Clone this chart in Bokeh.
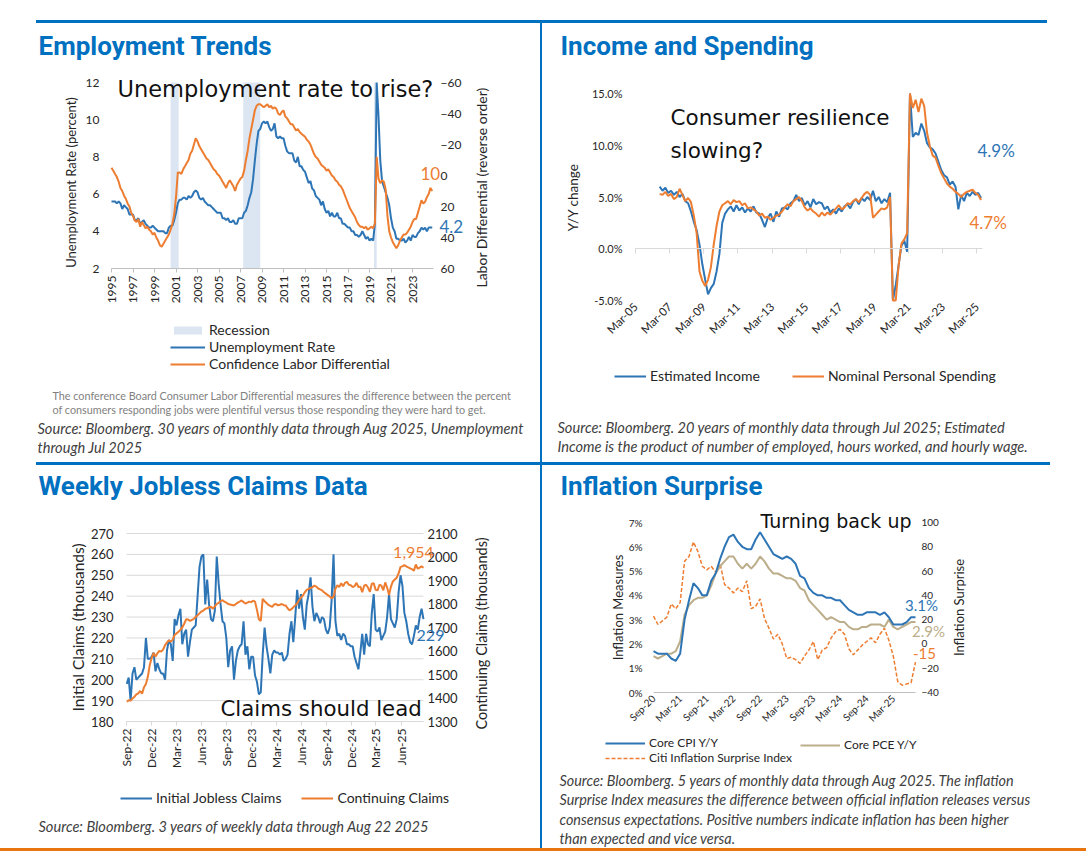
import math
import datetime as dt
from bokeh.plotting import figure
from bokeh.models import Range1d, LinearAxis, Label, Legend, LegendItem, FixedTicker, Div
from bokeh.layouts import column, row
from bokeh.embed import file_html
from bokeh.resources import INLINE

BODY = "Lato"
HEAD = "Roboto"
HAND = "DejaVu Sans"
BLUE = "#2E75B6"
ORANGE = "#ED7D31"
TAN = "#BCAE8B"
DARK_BLUE = "#0070C0"
RULE_ORANGE = "#E8750F"
REC_FILL = "#DCE6F2"
AXIS_GRAY = "#BFBFBF"
GRID_GRAY = "#D9D9D9"
TEXT = "#262626"
CAPTION = "#404040"

# ---------------- Chart 1: Employment Trends (every 2 months from Sep 1995) ----------------
EMP_START = (1995, 9)
EMP_STEP = 2
UNEMPLOYMENT_RATE = [
    5.6, 5.6,
    5.6, 5.5, 5.6, 5.5, 5.2, 5.4,
    5.3, 5.2, 4.9, 4.9, 4.9, 4.6,
    4.6, 4.7, 4.4, 4.5, 4.6, 4.4,
    4.3, 4.2, 4.2, 4.3, 4.2, 4.1,
    4.0, 4.0, 4.0, 4.0, 3.9, 3.9,
    4.2, 4.3, 4.3, 4.6, 5.0, 5.5,
    5.7, 5.7, 5.8, 5.8, 5.7, 5.9,
    5.8, 5.9, 6.1, 6.2, 6.1, 5.8,
    5.7, 5.8, 5.6, 5.5, 5.4, 5.4,
    5.3, 5.2, 5.1, 5.0, 5.0, 5.0,
    4.7, 4.7, 4.6, 4.7, 4.5, 4.5,
    4.6, 4.4, 4.4, 4.7, 4.7, 4.7,
    5.0, 5.1, 5.4, 5.8, 6.1, 6.8,
    7.8, 8.7, 9.4, 9.5, 9.8, 9.9,
    9.8, 9.9, 9.6, 9.4, 9.5, 9.8,
    9.1, 9.0, 9.1, 9.0, 9.0, 8.6,
    8.3, 8.2, 8.2, 8.2, 7.8, 7.7,
    8.0, 7.5, 7.5, 7.3, 7.2, 6.9,
    6.6, 6.7, 6.3, 6.2, 5.9, 5.8,
    5.7, 5.4, 5.6, 5.2, 5.0, 5.1,
    4.8, 5.0, 4.8, 4.8, 5.0, 4.7,
    4.7, 4.4, 4.4, 4.3, 4.2, 4.2,
    4.0, 4.0, 3.8, 3.8, 3.7, 3.8,
    4.0, 3.8, 3.6, 3.7, 3.5, 3.6,
    3.5, 4.4, 12.0, 10.2, 7.8, 6.7,
    6.4, 6.1, 5.8, 5.4, 4.7, 4.2,
    4.0, 3.6, 3.6, 3.5, 3.5, 3.6,
    3.4, 3.5, 3.7, 3.5, 3.8, 3.7,
    3.7, 3.9, 4.0, 4.2, 4.1, 4.2,
    4.0, 4.2, 4.2, 4.2,
]
LABOR_DIFFERENTIAL = [
    -5, -3,
    -1, 1, 4, 8, 10, 13,
    15, 18, 20, 24, 26, 29,
    30, 28, 33, 30, 32, 34,
    33, 35, 36, 38, 37, 40,
    42, 45, 46, 44, 42, 40,
    38, 35, 31, 25, 14, -2,
    -2, -1, -4, -6, -8, -10,
    -14, -16, -20, -24, -22, -19,
    -17, -15, -13, -11, -10, -8,
    -6, -4, -3, -1, 0, 2,
    4, 6, 8, 5, 3, 5,
    7, 10, 6, 4, 2, 1,
    -3, -10, -16, -24, -30, -36,
    -42, -45, -46, -46, -45, -44,
    -45, -46, -44, -45, -43, -44,
    -43, -40, -39, -41, -42, -38,
    -37, -35, -33, -33, -31, -29,
    -30, -28, -27, -26, -25, -23,
    -22, -20, -17, -14, -12, -11,
    -9, -7, -6, -5, -3, -4,
    -2, 0, 1, 3, 4, 6,
    7, 9, 12, 15, 18, 21,
    23, 25, 27, 30, 32, 33,
    33, 34, 33, 35, 34, 33,
    34, 31, -12, 2, 5, 3,
    4, 9, 26, 36, 40, 43,
    45, 47, 45, 42, 40, 38,
    38, 37, 35, 33, 30, 28,
    28, 24, 20, 16, 18, 17,
    14, 12, 8, 10,
]
RECESSION_START = [(2001, 3), (2007, 12), (2020, 2)]
RECESSION_END = [(2001, 11), (2009, 6), (2020, 4)]
EMP_TICK_LABELS = ["1995", "1997", "1999", "2001", "2003", "2005", "2007", "2009",
                   "2011", "2013", "2015", "2017", "2019", "2021", "2023"]
UNEMP_AXIS = (2, 12, 2)
LABOR_AXIS = (60, -60, 20)   # bottom, top (reverse order)

# ---------------- Chart 2: Income and Spending (every 2 months from Aug 2006) ----------------
INC_START = (2006, 8)
INC_STEP = 2
ESTIMATED_INCOME = [
    6.0, 5.6, 5.9,
    5.4, 5.6, 5.2, 5.5, 5.0, 5.3,
    4.6, 4.4, 3.6, 2.6, 1.8, 0.4,
    -1.5, -3.0, -4.4, -3.8, -3.4, -2.2,
    -0.5, 2.5, 3.4, 3.8, 4.1, 3.6,
    4.2, 3.7, 4.0, 3.5, 3.9, 3.6,
    4.1, 3.5, 3.4, 2.8, 2.1, 3.0,
    3.4, 2.6, 3.6, 3.1, 3.9, 4.0,
    3.8, 4.4, 4.6, 5.2, 4.6, 4.9,
    4.2, 4.6, 4.0, 4.8, 4.3, 4.5,
    4.4, 3.8, 4.1, 3.5, 3.8, 3.4,
    3.9, 3.6, 4.1, 4.3, 3.9, 4.5,
    4.8, 4.3, 4.9, 4.6, 5.0, 4.7,
    5.6, 4.6, 5.0, 4.4, 4.8, 4.5,
    5.4, -5.0, -3.5, -1.6, 0.3, 0.8,
    -0.3, 15.0, 10.8, 11.2, 11.0, 12.1,
    11.4, 10.2, 9.8, 9.6, 9.2, 8.4,
    7.6, 7.1, 6.9, 6.2, 6.5, 6.0,
    3.8, 5.2, 4.6, 5.4, 5.1, 5.5,
    5.2, 5.4, 4.9,
]
NOMINAL_SPENDING = [
    5.3, 5.2, 5.5,
    5.1, 5.3, 4.8, 5.0, 5.8, 5.2,
    4.6, 4.9, 4.5, 3.2, 1.5, -2.2,
    -3.1, -3.6, -3.0, -1.8, 0.4, 2.2,
    3.6, 4.2, 4.4, 4.6, 4.3, 4.7,
    4.5, 4.6, 4.2, 4.4, 3.9, 4.0,
    3.8, 3.6, 3.2, 3.4, 3.0, 3.1,
    2.8, 3.0, 3.2, 3.3, 3.6, 4.0,
    4.3, 4.1, 4.6, 4.8, 5.0, 4.6,
    4.0, 3.7, 3.9, 3.6, 3.4, 3.1,
    3.5, 3.2, 3.5, 3.3, 3.6, 3.9,
    4.2, 3.8, 4.0, 4.4, 4.3, 4.6,
    4.8, 4.5, 4.9, 5.3, 5.5, 5.2,
    3.0, 3.3, 3.6, 3.9, 3.8, 4.0,
    5.0, -5.0, -5.0, -1.6, 0.5, 0.9,
    1.5, 15.0, 13.6, 14.4, 13.2, 14.5,
    13.8, 11.2, 9.9, 9.0, 8.8, 8.0,
    7.3, 6.8, 6.3, 6.0, 5.8, 5.5,
    5.3, 5.0, 5.3, 5.5, 5.6, 5.7,
    5.4, 5.2, 4.7,
]
INC_TICK_LABELS = ["Mar-05", "Mar-07", "Mar-09", "Mar-11", "Mar-13", "Mar-15",
                   "Mar-17", "Mar-19", "Mar-21", "Mar-23", "Mar-25"]
INC_AXIS = (-5, 15, 5)
INC_LABELS = {-5: "-5.0%", 0: "0.0%", 5: "5.0%", 10: "10.0%", 15: "15.0%"}

# ---------------- Chart 3: Weekly Jobless Claims (weekly from 2 Sep 2022) ----------------
CLAIMS_START = (2022, 9, 2)
CLAIMS_END = (2025, 8, 22)
INITIAL_CLAIMS = [
    198, 201, 190, 203, 206, 200, 201, 202, 203, 206,
    220, 210, 210, 211, 213, 204, 208, 205, 203, 203,
    200, 214, 219, 217, 209, 229, 226, 231, 234, 217,
    222, 224, 211, 218, 224, 225, 226, 240, 254, 259,
    260, 236, 248, 236, 229, 228, 233, 259, 246, 236,
    228, 227, 220, 206, 214, 216, 200, 209, 214, 216,
    217, 228, 212, 216, 205, 211, 211, 202, 199, 193,
    194, 212, 225, 216, 210, 203, 212, 214, 213, 213,
    212, 213, 209, 210, 212, 222, 228, 218, 230, 243,
    234, 241, 230, 224, 236, 241, 249, 235, 228, 232,
    230, 227, 230, 229, 224, 222, 225, 238, 260, 228,
    221, 222, 219, 222, 221, 217, 217, 216, 216, 211,
    208, 205, 213, 222, 212, 222, 217, 216, 232, 241,
    224, 223, 225, 219, 221, 223, 230, 241, 229, 227,
    225, 229, 242, 250, 245, 232, 228, 222, 218, 217,
    221, 226, 224, 230, 234, 229,
]
CONTINUING_CLAIMS = [
    1385, 1390, 1389, 1398, 1405, 1415, 1420, 1430, 1418, 1446,
    1460, 1490, 1540, 1570, 1592, 1576, 1590, 1600, 1598, 1606,
    1625, 1636, 1645, 1640, 1648, 1668, 1675, 1682, 1690, 1700,
    1716, 1735, 1734, 1728, 1732, 1737, 1745, 1752, 1760, 1768,
    1772, 1780, 1782, 1786, 1788, 1780, 1790, 1800, 1805, 1812,
    1816, 1810, 1806, 1800, 1798, 1796, 1794, 1800, 1806, 1810,
    1815, 1808, 1802, 1806, 1810, 1808, 1814, 1810, 1775, 1735,
    1728, 1822, 1812, 1804, 1796, 1792, 1788, 1798, 1800, 1794,
    1797, 1800, 1795, 1794, 1782, 1773, 1778, 1786, 1794, 1802,
    1816, 1828, 1836, 1850, 1860, 1864, 1868, 1872, 1878, 1874,
    1866, 1862, 1858, 1850, 1844, 1838, 1832, 1825, 1830, 1865,
    1880, 1872, 1888, 1876, 1890, 1894, 1882, 1880, 1872, 1876,
    1890, 1872, 1874, 1850, 1878, 1882, 1870, 1852, 1886, 1888,
    1860, 1858, 1882, 1878, 1858, 1892, 1870, 1838, 1874, 1896,
    1904, 1912, 1930, 1958, 1960, 1966, 1960, 1956, 1952, 1948,
    1942, 1968, 1950, 1955, 1960, 1954,
]
CLAIMS_TICKS = [(2022, 9), (2022, 12), (2023, 3), (2023, 6), (2023, 9), (2023, 12),
                (2024, 3), (2024, 6), (2024, 9), (2024, 12), (2025, 3), (2025, 6)]
CLAIMS_TICK_LABELS = ["Sep-22", "Dec-22", "Mar-23", "Jun-23", "Sep-23", "Dec-23",
                      "Mar-24", "Jun-24", "Sep-24", "Dec-24", "Mar-25", "Jun-25"]
INIT_AXIS = (180, 270, 10)
CONT_AXIS = (1300, 2100, 100)

# ---------------- Chart 4: Inflation Surprise (monthly from Sep 2020) ----------------
INF_START = (2020, 9)
INF_END = (2025, 8)
CORE_CPI = [
    1.7, 1.6, 1.6, 1.6,
    1.4, 1.3, 1.6, 3.0, 3.8, 4.5, 4.3, 4.0, 4.0, 4.6, 4.9, 5.5,
    6.0, 6.4, 6.5, 6.2, 6.0, 5.9, 5.9, 6.3, 6.6, 6.3, 6.0, 5.7,
    5.6, 5.5, 5.6, 5.5, 5.3, 4.8, 4.7, 4.3, 4.1, 4.0, 4.0, 3.9,
    3.9, 3.8, 3.8, 3.6, 3.4, 3.3, 3.2, 3.2, 3.3, 3.3, 3.3, 3.2,
    3.3, 3.1, 2.8, 2.8, 2.8, 2.9, 3.1, 3.1,
]
CORE_PCE = [
    1.5, 1.4, 1.5, 1.6,
    1.6, 1.7, 2.1, 3.2, 3.6, 3.8, 3.9, 3.9, 4.0, 4.4, 4.9, 5.2,
    5.4, 5.6, 5.6, 5.3, 5.1, 5.3, 5.1, 5.3, 5.6, 5.4, 5.1, 4.9,
    4.9, 4.8, 4.7, 4.7, 4.6, 4.3, 4.2, 3.8, 3.6, 3.4, 3.2, 3.0,
    3.1, 3.0, 2.9, 2.9, 2.7, 2.6, 2.6, 2.7, 2.7, 2.8, 2.8, 2.8,
    2.7, 3.0, 2.7, 2.6, 2.7, 2.8, 2.9, 2.9,
]
CITI_SURPRISE = [
    23, 16, 19, 22,
    33, 29, 34, 68, 72, 84, 76, 64, 61, 64, 59, 66,
    49, 46, 42, 46, 43, 52, 29, 31, 37, 21, 13, 4,
    8, 0, -12, -11, -13, -16, -10, -5, 2, -13, -5, -3,
    5, 10, 12, 8, -4, -9, -5, -1, 2, 5, 1, 8,
    13, 3, -10, -31, -34, -33, -32, -15,
]
INF_TICK_LABELS = ["Sep-20", "Mar-21", "Sep-21", "Mar-22", "Sep-22", "Mar-23",
                   "Sep-23", "Mar-24", "Sep-24", "Mar-25"]
INF_AXIS = (0, 7, 1)
SURPRISE_AXIS = (-40, 100, 20)


def mi(y, m):
    """month index"""
    return y * 12 + (m - 1)


def frange(a, b, s):
    out = []
    v = a
    while (s > 0 and v <= b) or (s < 0 and v >= b):
        out.append(v)
        v += s
    return out


def span_range(v, w, pv, pw, total):
    """Range1d such that value v sits at pixel pv and w at pixel pw (0..total)."""
    k = (w - v) / (pw - pv)
    return Range1d(v - pv * k, w + (total - pw) * k)


class Panel:
    """A figure whose frame is its whole canvas; the chart box is given in page px."""

    def __init__(self, ox, oy, W, H, box, xv, yv):
        self.ox, self.oy, self.W, self.H = ox, oy, W, H
        L, T, R, B = [c - o for c, o in zip(box, (ox, oy, ox, oy))]
        self.L, self.T, self.R, self.B = L, T, R, B
        self.xv, self.yv = xv, yv
        p = figure(width=W, height=H, output_backend="svg", toolbar_location=None, title=None,
                   x_range=span_range(xv[0], xv[1], L, R, W),
                   y_range=span_range(yv[0], yv[1], H - B, H - T, H),
                   min_border=0)
        p.outline_line_color = None
        p.xgrid.visible = False
        p.ygrid.visible = False
        p.background_fill_color = "white"
        p.border_fill_color = "white"
        p.xaxis.fixed_location = yv[0]
        p.yaxis.fixed_location = xv[0]
        p.xaxis.bounds = (min(xv), max(xv))
        self.p = p

    def extra_y(self, name, bottom, top):
        self.p.extra_y_ranges = {name: span_range(bottom, top, self.H - self.B, self.H - self.T, self.H)}

    def put(self, px, py, text, size, color=TEXT, font=BODY, style="normal", align="left", angle=0.0):
        self.p.add_layout(Label(x=px - self.ox, y=self.oy + self.H - py, x_units="screen",
                                y_units="screen", text=text, text_font=font,
                                text_font_size=f"{size}px", text_color=color,
                                text_font_style=style, text_align=align,
                                text_baseline="middle", angle=angle))

    def legend(self, items, px, py_bottom, orient, size, gw, spacing, lh):
        lg = Legend(items=items, location=(px - self.ox, self.oy + self.H - py_bottom),
                    orientation=orient, border_line_color=None, background_fill_alpha=0,
                    label_text_font=BODY, label_text_font_size=f"{size}px",
                    label_text_color=TEXT, glyph_width=gw, glyph_height=10, label_standoff=4,
                    spacing=spacing, padding=0, margin=0, label_height=lh)
        self.p.add_layout(lg)

    def title(self, px, py, text):
        self.put(px, py, text, 26, color=DARK_BLUE, font=HEAD, style="bold")


def style_axis(ax, size, line=None, ticks_out=0, standoff=5, color=TEXT):
    ax.axis_line_color = line
    ax.major_tick_line_color = line if ticks_out else None
    ax.major_tick_out = ticks_out
    ax.major_tick_in = 0
    ax.minor_tick_line_color = None
    ax.major_label_text_font = BODY
    ax.major_label_text_font_size = f"{size}px"
    ax.major_label_text_color = color
    ax.major_label_standoff = standoff


def dlabel(p, x, y, text, color, size, dx, dy, yname="default"):
    p.add_layout(Label(x=x, y=y, x_offset=dx, y_offset=dy, text=text, text_font=BODY,
                       text_font_size=f"{size}px", text_color=color, text_align="center",
                       text_baseline="middle", y_range_name=yname))


def bar(w, h, color=None):
    d = Div(text="", width=w, height=h, margin=0)
    if color:
        d.styles = {"background-color": color}
    return d


SRC = 14.6

# ====================== Panel 1 ======================
x1 = [mi(*EMP_START) + k * EMP_STEP for k in range(len(UNEMPLOYMENT_RATE))]
xl1 = [mi(*EMP_START) + k * EMP_STEP for k in range(len(LABOR_DIFFERENTIAL))]
A1 = Panel(8, 23, 532, 439, (111, 82, 433, 268),
           (mi(*EMP_START), mi(*EMP_START) + 359.4), (UNEMP_AXIS[0], UNEMP_AXIS[1]))
p1 = A1.p
A1.extra_y("r", LABOR_AXIS[0], LABOR_AXIS[1])
rec = p1.quad(left=[mi(*s) for s in RECESSION_START], right=[mi(*e) + 1 for e in RECESSION_END],
              bottom=UNEMP_AXIS[0], top=UNEMP_AXIS[1], fill_color=REC_FILL, line_color=None)
ru = p1.line(x1, UNEMPLOYMENT_RATE, line_color=BLUE, line_width=2)
rl = p1.line(xl1, LABOR_DIFFERENTIAL, line_color=ORANGE, line_width=2, y_range_name="r")
emp_ticks = [mi(*EMP_START) + 24 * k for k in range(len(EMP_TICK_LABELS))]
ax = p1.xaxis[0]
ax.ticker = FixedTicker(ticks=emp_ticks)
ax.major_label_overrides = dict(zip(emp_ticks, EMP_TICK_LABELS))
style_axis(ax, 12, line=AXIS_GRAY, ticks_out=4, standoff=3)
ax.major_label_orientation = math.pi / 2
ay = p1.yaxis[0]
ay.ticker = FixedTicker(ticks=frange(*UNEMP_AXIS))
style_axis(ay, 12, standoff=12)
ar = LinearAxis(y_range_name="r", fixed_location=A1.xv[1],
                ticker=FixedTicker(ticks=frange(LABOR_AXIS[1], LABOR_AXIS[0], LABOR_AXIS[2])))
style_axis(ar, 12, standoff=7)
p1.add_layout(ar, "right")
A1.legend([LegendItem(label="Recession", renderers=[rec]),
           LegendItem(label="Unemployment Rate", renderers=[ru]),
           LegendItem(label="Confidence Labor Differential", renderers=[rl])],
          170, 372, "vertical", 14, 35, 0, 16)
A1.title(38, 45, "Employment Trends")
A1.put(70, 182, "Unemployment Rate (percent)", 13, angle=math.pi / 2, align="center")
A1.put(481, 187, "Labor Differential (reverse order)", 14, angle=math.pi / 2, align="center")
A1.put(117, 88, "Unemployment rate to rise?", 22.5, color="#111111", font=HAND)
dlabel(p1, xl1[-1], LABOR_DIFFERENTIAL[-1], "10", ORANGE, 17, -2, 18, yname="r")
dlabel(p1, x1[-1], UNEMPLOYMENT_RATE[-1], "4.2", BLUE, 17, 19, 1)
A1.put(52, 395, "The conference Board Consumer Labor Differential measures the difference between the percent", 10.8, color="#7F7F7F")
A1.put(52, 409, "of consumers responding jobs were plentiful versus those responding they were hard to get.", 10.8, color="#7F7F7F")
A1.put(37, 428, "Source: Bloomberg. 30 years of monthly data through Aug 2025, Unemployment", SRC, color=CAPTION, style="italic")
A1.put(37, 447, "through Jul 2025", SRC, color=CAPTION, style="italic")

# ====================== Panel 2 ======================
x2 = [mi(*INC_START) + k * INC_STEP for k in range(len(ESTIMATED_INCOME))]
xs2 = [mi(*INC_START) + k * INC_STEP for k in range(len(NOMINAL_SPENDING))]
A2 = Panel(542, 23, 536, 439, (635, 93, 982, 300),
           (mi(2005, 3), mi(2025, 7)), (INC_AXIS[0], INC_AXIS[1]))
p2 = A2.p
ri = p2.line(x2, ESTIMATED_INCOME, line_color=BLUE, line_width=2)
rs = p2.line(xs2, NOMINAL_SPENDING, line_color=ORANGE, line_width=2)
inc_ticks = [mi(2005, 3) + 24 * k for k in range(len(INC_TICK_LABELS))]
ax = p2.xaxis[0]
ax.ticker = FixedTicker(ticks=inc_ticks)
ax.major_label_overrides = dict(zip(inc_ticks, INC_TICK_LABELS))
style_axis(ax, 11.5, standoff=4)
ax.major_label_orientation = math.pi / 4
zero_ax = LinearAxis(fixed_location=0, ticker=FixedTicker(ticks=inc_ticks),
                     bounds=(A2.xv[0], A2.xv[1]))
style_axis(zero_ax, 1, line=GRID_GRAY, ticks_out=5)
zero_ax.major_label_text_alpha = 0
p2.add_layout(zero_ax, "below")
ay = p2.yaxis[0]
ay.ticker = FixedTicker(ticks=frange(*INC_AXIS))
ay.major_label_overrides = INC_LABELS
style_axis(ay, 11, standoff=13)
A2.legend([LegendItem(label="Estimated Income", renderers=[ri]),
           LegendItem(label="Nominal Personal Spending", renderers=[rs])],
          614, 384, "horizontal", 14, 32, 32, 16)
A2.title(560, 45, "Income and Spending")
A2.put(572, 197, "Y/Y change", 13.5, angle=math.pi / 2, align="center")
A2.put(670, 117, "Consumer resilience", 21.5, color="#111111", font=HAND)
A2.put(670, 150, "slowing?", 21.5, color="#111111", font=HAND)
dlabel(p2, x2[-1], ESTIMATED_INCOME[-1], "4.9%", BLUE, 17, 15, 48)
dlabel(p2, xs2[-1], NOMINAL_SPENDING[-1], "4.7%", ORANGE, 17, 7, -22)
A2.put(557, 427, "Source: Bloomberg. 20 years of monthly data through Jul 2025; Estimated", SRC, color=CAPTION, style="italic")
A2.put(557, 446, "Income is the product of number of employed, hours worked, and hourly wage.", SRC, color=CAPTION, style="italic")

# ====================== Panel 3 ======================
c0 = dt.date(*CLAIMS_START).toordinal()
x3 = [c0 + 7 * k for k in range(len(INITIAL_CLAIMS))]
xc3 = [c0 + 7 * k for k in range(len(CONTINUING_CLAIMS))]
A3 = Panel(8, 465, 532, 383, (126, 533, 423, 721),
           (dt.date(2022, 9, 1).toordinal(), dt.date(*CLAIMS_END).toordinal()),
           (INIT_AXIS[0], INIT_AXIS[1]))
p3 = A3.p
A3.extra_y("r", CONT_AXIS[0], CONT_AXIS[1])
grid_y = frange(*INIT_AXIS)
p3.segment(x0=[A3.xv[0]] * len(grid_y), x1=[A3.xv[1]] * len(grid_y), y0=grid_y, y1=grid_y,
           line_color=GRID_GRAY, line_width=1)
rci = p3.line(x3, INITIAL_CLAIMS, line_color=BLUE, line_width=2)
rcc = p3.line(xc3, CONTINUING_CLAIMS, line_color=ORANGE, line_width=2, y_range_name="r")
cl_ticks = [dt.date(y, m, 1).toordinal() for (y, m) in CLAIMS_TICKS]
ax = p3.xaxis[0]
ax.ticker = FixedTicker(ticks=cl_ticks)
ax.major_label_overrides = dict(zip(cl_ticks, CLAIMS_TICK_LABELS))
style_axis(ax, 12, line=GRID_GRAY, ticks_out=4, standoff=3)
ax.major_label_orientation = math.pi / 2
ay = p3.yaxis[0]
ay.ticker = FixedTicker(ticks=frange(*INIT_AXIS))
style_axis(ay, 13, standoff=13)
ar = LinearAxis(y_range_name="r", fixed_location=A3.xv[1], ticker=FixedTicker(ticks=frange(*CONT_AXIS)))
style_axis(ar, 13, standoff=4)
p3.add_layout(ar, "right")
A3.legend([LegendItem(label="Initial Jobless Claims", renderers=[rci]),
           LegendItem(label="Continuing Claims", renderers=[rcc])],
          120, 806, "horizontal", 14, 32, 20, 16)
A3.title(38, 485, "Weekly Jobless Claims Data")
A3.put(77, 627, "Initial Claims (thousands)", 15.5, angle=math.pi / 2, align="center")
A3.put(481, 633, "Continuing Claims (thousands)", 14.5, angle=math.pi / 2, align="center")
A3.put(220, 708, "Claims should lead", 21.3, color="#111111", font=HAND)
dlabel(p3, xc3[-1], CONTINUING_CLAIMS[-1], "1,954", ORANGE, 16, -10, 15, yname="r")
dlabel(p3, x3[-1], INITIAL_CLAIMS[-1], "229", BLUE, 16, 7, -16)
A3.put(38, 826, "Source: Bloomberg. 3 years of weekly data through Aug 22 2025", SRC, color=CAPTION, style="italic")

# ====================== Panel 4 ======================
x4 = [mi(*INF_START) + k for k in range(len(CORE_CPI))]
xp4 = [mi(*INF_START) + k for k in range(len(CORE_PCE))]
xs4 = [mi(*INF_START) + k for k in range(len(CITI_SURPRISE))]
A4 = Panel(542, 465, 536, 383, (653, 522, 915, 692),
           (mi(*INF_START), mi(*INF_END)), (INF_AXIS[0], INF_AXIS[1]))
p4 = A4.p
A4.extra_y("r", SURPRISE_AXIS[0], SURPRISE_AXIS[1])
rsu = p4.line(xs4, CITI_SURPRISE, line_color=ORANGE, line_width=1.5, line_dash="4 2", y_range_name="r")
rpce = p4.line(xp4, CORE_PCE, line_color=TAN, line_width=2)
rcpi = p4.line(x4, CORE_CPI, line_color=BLUE, line_width=2)
inf_ticks = [mi(*INF_START) + 6 * k for k in range(len(INF_TICK_LABELS))]
ax = p4.xaxis[0]
ax.ticker = FixedTicker(ticks=inf_ticks)
ax.major_label_overrides = dict(zip(inf_ticks, INF_TICK_LABELS))
style_axis(ax, 10, line=AXIS_GRAY, ticks_out=0, standoff=4)
ax.major_label_orientation = math.pi / 4
ay = p4.yaxis[0]
ay.ticker = FixedTicker(ticks=frange(*INF_AXIS))
ay.major_label_overrides = {v: f"{v}%" for v in frange(*INF_AXIS)}
style_axis(ay, 10, standoff=11)
ar = LinearAxis(y_range_name="r", fixed_location=A4.xv[1], ticker=FixedTicker(ticks=frange(*SURPRISE_AXIS)))
style_axis(ar, 10, standoff=6)
p4.add_layout(ar, "right")
A4.legend([LegendItem(label="Core CPI Y/Y", renderers=[rcpi]),
           LegendItem(label="Citi Inflation Surprise Index", renderers=[rsu])],
          605, 765, "vertical", 12, 40, 0, 13)
A4.legend([LegendItem(label="Core PCE Y/Y", renderers=[rpce])],
          800, 752, "vertical", 12, 40, 0, 13)
A4.title(560, 485, "Inflation Surprise")
A4.put(617, 607, "Inflation Measures", 13, angle=math.pi / 2, align="center")
A4.put(958, 607, "Inflation Surprise", 13, angle=math.pi / 2, align="center")
A4.put(760, 520, "Turning back up", 19, color="#111111", font=HAND)
dlabel(p4, x4[-1], CORE_CPI[-1], "3.1%", BLUE, 15, 6, 12)
dlabel(p4, xp4[-1], CORE_PCE[-1], "2.9%", TAN, 15, 13, -9)
dlabel(p4, xs4[-1], CITI_SURPRISE[-1], "-15", ORANGE, 15, 9, 9, yname="r")
cap4 = ["Source: Bloomberg. 5 years of monthly data through Aug 2025. The inflation",
        "Surprise Index measures the difference between official inflation releases versus",
        "consensus expectations. Positive numbers indicate inflation has been higher",
        "than expected and vice versa."]
for i, line in enumerate(cap4):
    A4.put(559, 780 + 19.3 * i, line, 14.4, color=CAPTION, style="italic")

# ====================== Layout ======================
left_col = column(p1, row(bar(28, 3), bar(504, 3, DARK_BLUE)), p3)
right_col = column(p2, bar(508, 3, DARK_BLUE), p4)
body = row(left_col, bar(2, 825, DARK_BLUE), right_col)
root = column(bar(1086, 20),
              row(bar(36, 3), bar(1011, 3, DARK_BLUE)),
              row(bar(8, 825), body),
              bar(1086, 3, RULE_ORANGE))

open("out.html", "w").write(file_html(root, INLINE))
